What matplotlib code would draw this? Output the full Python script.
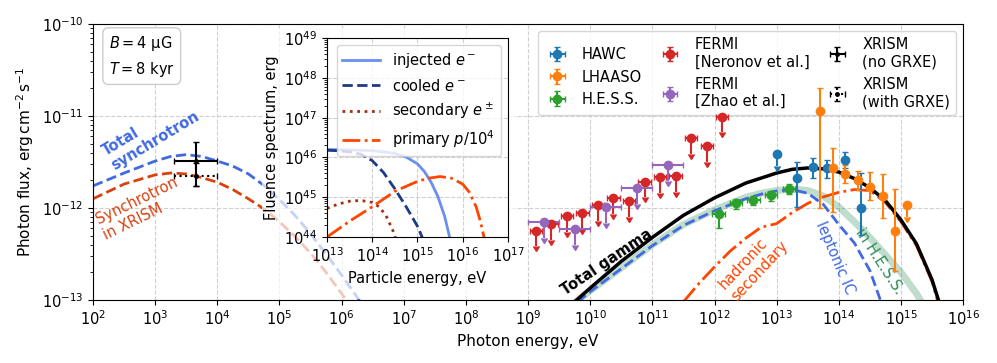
import numpy as np
import matplotlib
matplotlib.use("Agg")
import matplotlib.pyplot as plt
from matplotlib.patches import Rectangle
from matplotlib.ticker import NullLocator, LogLocator

# ---- model curves, main panel (log10 E [eV], log10 flux [erg cm^-2 s^-1]) ----
sync_total_logE = [2.0, 2.5, 3.0, 3.25, 3.5, 3.75, 4.0, 4.25, 4.5, 4.75, 5.0, 5.25, 5.5, 5.75, 6.0, 6.25, 6.45]
sync_total_logF = [-11.76, -11.62, -11.49, -11.44, -11.42, -11.44, -11.49, -11.545, -11.63, -11.755, -11.91, -12.08, -12.28, -12.50, -12.73, -12.97, -13.17]

sync_xrism_logE = [2.0, 2.5, 3.0, 3.25, 3.5, 3.75, 4.0, 4.25, 4.5, 4.75, 5.0, 5.25, 5.5, 5.75, 6.0, 6.25]
sync_xrism_logF = [-11.90, -11.74, -11.64, -11.62, -11.63, -11.67, -11.72, -11.80, -11.90, -12.01, -12.15, -12.31, -12.49, -12.70, -12.93, -13.18]

gamma_total_logE = [9.7, 10.0, 10.5, 11.0, 11.5, 12.0, 12.5, 13.0, 13.25, 13.5, 13.75, 14.0, 14.25, 14.5, 14.75, 15.0, 15.25, 15.5, 15.65]
gamma_total_logF = [-13.05, -12.87, -12.58, -12.32, -12.08, -11.89, -11.73, -11.62, -11.58, -11.565, -11.575, -11.61, -11.68, -11.78, -11.92, -12.13, -12.39, -12.78, -13.1]

ic_logE = [9.8, 10.0, 10.5, 11.0, 11.5, 12.0, 12.5, 12.75, 13.0, 13.25, 13.5, 13.75, 14.0, 14.25, 14.5, 14.7]
ic_logF = [-13.02, -12.91, -12.66, -12.41, -12.19, -12.03, -11.90, -11.85, -11.815, -11.80, -11.84, -11.96, -12.18, -12.38, -12.68, -13.06]

hess_band_logE = [9.8, 10.0, 10.5, 11.0, 11.5, 12.0, 12.5, 12.75, 13.0, 13.25, 13.5, 13.75, 14.0, 14.25, 14.5, 14.75, 15.0, 15.25, 15.4]
hess_band_logF = [-13.0, -12.9, -12.65, -12.40, -12.18, -12.02, -11.885, -11.84, -11.81, -11.795, -11.81, -11.87, -11.99, -12.15, -12.32, -12.51, -12.70, -12.93, -13.1]

hadr_logE = [11.5, 11.75, 12.0, 12.25, 12.5, 12.75, 13.0, 13.25, 13.5, 13.75, 14.0, 14.25, 14.5, 14.75, 15.0, 15.25, 15.5, 15.62]
hadr_logF = [-13.02, -12.82, -12.64, -12.47, -12.33, -12.21, -12.17, -12.05, -11.95, -11.88, -11.83, -11.80, -11.81, -11.94, -12.15, -12.41, -12.80, -13.08]

# ---- inset: particle spectra (log10 E [eV], log10 fluence [erg]) ----
inj_logE = [13.0, 13.5, 14.0, 14.25, 14.5, 14.75, 15.0, 15.15, 15.3, 15.45, 15.6, 15.72]
inj_logY = [46.20, 46.19, 46.17, 46.14, 46.10, 46.01, 45.84, 45.65, 45.38, 45.02, 44.52, 43.95]
cool_logE = [13.0, 13.25, 13.5, 13.75, 14.0, 14.25, 14.5, 14.75, 15.0, 15.12]
cool_logY = [46.18, 46.17, 46.14, 46.08, 45.92, 45.62, 45.21, 44.76, 44.27, 43.95]
sec_logE = [13.0, 13.25, 13.5, 13.75, 14.0, 14.15, 14.3, 14.45, 14.52]
sec_logY = [44.72, 44.83, 44.90, 44.92, 44.87, 44.76, 44.55, 44.18, 43.95]
prim_logE = [13.0, 13.5, 14.0, 14.5, 15.0, 15.25, 15.5, 15.75, 16.0, 16.15, 16.3, 16.4, 16.48]
prim_logY = [44.00, 44.40, 44.76, 45.15, 45.40, 45.48, 45.52, 45.48, 45.33, 45.12, 44.75, 44.35, 43.95]

# ---- measurements ----
hawc_E = np.array([1.03e13, 2.16e13, 3.81e13, 6.56e13, 1.28e14, 2.26e14])
hawc_F = np.array([3.83e-12, 2.12e-12, 2.81e-12, 2.70e-12, 3.33e-12, 9.9e-13])
hawc_Flo = np.array([2.85e-12, 1.03e-12, 2.10e-12, 2.14e-12, 2.72e-12, 5.1e-13])
hawc_Fhi = np.array([3.83e-12, 3.14e-12, 3.47e-12, 3.33e-12, 4.03e-12, 2.40e-12])
hawc_ul = np.array([True, False, False, False, False, False])

lhaaso_E = np.array([5.07e13, 8.11e13, 1.28e14, 2.05e14, 3.23e14, 5.11e14, 8.17e14, 1.27e15])
lhaaso_F = np.array([1.13e-11, 2.70e-12, 2.32e-12, 2.00e-12, 1.71e-12, 1.35e-12, 5.62e-13, 1.08e-12])
lhaaso_Flo = np.array([9.9e-13, 9.1e-13, 1.85e-12, 1.55e-12, 1.22e-12, 7.8e-13, 2.04e-13, 8.0e-13])
lhaaso_Fhi = np.array([2.0e-11, 4.5e-12, 2.9e-12, 2.5e-12, 2.48e-12, 2.34e-12, 1.6e-12, 1.08e-12])
lhaaso_ul = np.array([False, False, False, False, False, False, False, True])

hess_E = np.array([1.16e12, 2.20e12, 4.23e12, 8.05e12, 1.57e13])
hess_F = np.array([8.53e-13, 1.12e-12, 1.22e-12, 1.37e-12, 1.62e-12])
hess_Flo = np.array([6.0e-13, 9.8e-13, 1.08e-12, 1.20e-12, 1.42e-12])
hess_Fhi = np.array([9.6e-13, 1.25e-12, 1.35e-12, 1.52e-12, 1.82e-12])

neronov_E = np.array([1.33e9, 2.37e9, 4.22e9, 7.50e9, 1.33e10, 2.37e10, 4.22e10,
                      7.50e10, 1.33e11, 2.37e11, 4.22e11, 7.50e11, 1.33e12])
neronov_F = np.array([5.66e-13, 6.70e-13, 8.18e-13, 8.75e-13, 1.08e-12, 1.27e-12, 1.19e-12,
                      1.93e-12, 2.15e-12, 2.23e-12, 5.77e-12, 4.72e-12, 9.8e-12])

zhao_E = np.array([1.78e9, 5.62e9, 1.78e10, 5.62e10, 1.78e11])
zhao_F = np.array([7.05e-13, 5.86e-13, 1.02e-12, 1.64e-12, 2.93e-12])

xrism_E, xrism_Elo, xrism_Ehi = 4.55e3, 2.0e3, 1.0e4
xrism_F, xrism_Flo, xrism_Fhi = 3.2e-12, 1.75e-12, 5.2e-12
xrism_grxe_F, xrism_grxe_Flo, xrism_grxe_Fhi = 2.2e-12, 1.75e-12, 3.1e-12

plt.rcParams['font.size'] = 10.5
fig = plt.figure(figsize=(9.97, 3.63), dpi=100)
ax = fig.add_axes([0.0933, 0.1736, 0.8727, 0.7604])
ax.set_xscale('log')
ax.set_yscale('log')

p = lambda v: 10 ** np.asarray(v)

ax.plot(p(sync_total_logE), p(sync_total_logF), '--', color='royalblue', lw=2)
ax.plot(p(sync_xrism_logE), p(sync_xrism_logF), '--', color='#d9410f', lw=2)
ax.plot(p(hess_band_logE), p(hess_band_logF), '-', color='seagreen', lw=5, alpha=0.3)
ax.plot(p(hadr_logE), p(hadr_logF), '-.', color='orangered', lw=2)
ax.plot(p(ic_logE), p(ic_logF), '--', color='royalblue', lw=2)
ax.plot(p(gamma_total_logE), p(gamma_total_logF), '-', color='black', lw=2.5)

eb = dict(fmt='o', ms=6, capsize=2.5, elinewidth=1.5, zorder=6)
ul_len = 10 ** -0.17


def err(F, lo, hi):
    return [F - lo, hi - F]


ax.errorbar(hawc_E, hawc_F, xerr=0 * hawc_E, yerr=err(hawc_F, hawc_Flo, hawc_Fhi),
            uplims=hawc_ul, color='tab:blue', label='HAWC', **eb)
ax.errorbar(lhaaso_E, lhaaso_F, xerr=0 * lhaaso_E, yerr=err(lhaaso_F, lhaaso_Flo, lhaaso_Fhi),
            uplims=lhaaso_ul, color='tab:orange', label='LHAASO', **eb)
ax.errorbar(hess_E, hess_F, xerr=[hess_E * (1 - 10 ** -0.1), hess_E * (10 ** 0.1 - 1)],
            yerr=err(hess_F, hess_Flo, hess_Fhi), color='tab:green', label='H.E.S.S.', **eb)
ax.errorbar(neronov_E, neronov_F,
            xerr=[neronov_E * (1 - 10 ** -0.1), neronov_E * (10 ** 0.1 - 1)],
            yerr=neronov_F * (1 - ul_len), uplims=True, color='tab:red',
            label='FERMI\n[Neronov et al.]', **eb)
ax.errorbar(zhao_E, zhao_F,
            xerr=[zhao_E * (1 - 10 ** -0.25), zhao_E * (10 ** 0.25 - 1)],
            yerr=zhao_F * (1 - ul_len), uplims=True, color='tab:purple',
            label='FERMI\n[Zhao et al.]', **eb)
ax.errorbar([xrism_E], [xrism_F], xerr=[[xrism_E - xrism_Elo], [xrism_Ehi - xrism_E]],
            yerr=[[xrism_F - xrism_Flo], [xrism_Fhi - xrism_F]], fmt='.', ms=5,
            color='black', capsize=2.5, elinewidth=1.5, zorder=7, label='XRISM\n(no GRXE)')
e2 = ax.errorbar([xrism_E], [xrism_grxe_F], xerr=[[xrism_E - xrism_Elo], [xrism_Ehi - xrism_E]],
                 yerr=[[xrism_grxe_F - xrism_grxe_Flo], [xrism_grxe_Fhi - xrism_grxe_F]], fmt='.', ms=5,
                 color='black', capsize=2.5, elinewidth=1.5, zorder=7, label='XRISM\n(with GRXE)')
for c in e2[2]:
    c.set_linestyle(':')

ax.set_xlim(1e2, 1e16)
ax.set_ylim(1e-13, 1e-10)
ax.set_xticks([10.0 ** k for k in range(2, 17)])
ax.set_yticks([1e-13, 1e-12, 1e-11, 1e-10])
ax.xaxis.set_minor_locator(NullLocator())
ax.grid(True, which='major', ls='--', color='#d0d0d0', lw=0.8)
ax.set_xlabel('Photon energy, eV', fontsize=11)
ax.set_ylabel(r'Photon flux, $\mathrm{erg\,cm^{-2}\,s^{-1}}$', fontsize=11)
ax.legend(loc='upper right', ncol=3, fontsize=10.5, columnspacing=1.0, handlelength=1.8)

# curve labels
ax.text(10 ** 2.93, 10 ** -11.19, 'Total\nsynchrotron', rotation=31, color='royalblue',
        fontweight='bold', ha='center', va='center', multialignment='left', fontsize=10.5)
ax.text(10 ** 2.76, 10 ** -12.01, 'Synchrotron\nin XRISM', rotation=26, color='#d9410f',
        ha='center', va='center', multialignment='left', fontsize=10.5)
ax.text(10 ** 10.26, 10 ** -12.59, 'Total gamma', rotation=34, color='black',
        fontweight='bold', ha='center', va='center', fontsize=10.5)
ax.text(10 ** 12.63, 10 ** -12.62, 'hadronic\nsecondary', rotation=47, color='orangered',
        ha='center', va='center', multialignment='left', fontsize=10.5)
ax.text(10 ** 13.94, 10 ** -12.54, 'leptonic IC', rotation=-67, color='royalblue',
        ha='center', va='center', fontsize=10.5)
ax.text(10 ** 14.65, 10 ** -12.58, 'in H.E.S.S.', rotation=-57, color='#2e8b57',
        ha='center', va='center', fontsize=10.5)
ax.text(0.018, 0.965, '$B = 4$ μG\n$T = 8$ kyr', transform=ax.transAxes, va='top', ha='left',
        fontsize=10.5, linespacing=1.5,
        bbox=dict(boxstyle='round,pad=0.4', fc='white', ec='#cccccc'))

# pale veil behind the inset
ax.add_patch(Rectangle((0.263, 0.177), 0.254, 0.745, transform=fig.transFigure,
                       fc='white', ec='none', alpha=0.7, zorder=4, clip_on=False))

# ---- inset ----
ins = fig.add_axes([0.328, 0.347, 0.1815, 0.548])
ins.set_xscale('log')
ins.set_yscale('log')
ins.plot(p(inj_logE), p(inj_logY), '-', color='#6b8ff0', lw=2, label='injected $e^-$')
ins.plot(p(cool_logE), p(cool_logY), '--', color='#1f3a85', lw=2, label='cooled $e^-$')
ins.plot(p(sec_logE), p(sec_logY), ':', color='#a0300f', lw=2, label=r'secondary $e^\pm$')
ins.plot(p(prim_logE), p(prim_logY), '-.', color='orangered', lw=2, label='primary $p/10^4$')
ins.set_xlim(1e13, 1e17)
ins.set_ylim(1e44, 1e49)
ins.set_xticks([10.0 ** k for k in range(13, 18)])
ins.set_yticks([10.0 ** k for k in range(44, 50)])
ins.xaxis.set_minor_locator(NullLocator())
ins.yaxis.set_minor_locator(LogLocator(subs=np.arange(2, 10)))
ins.grid(True, which='major', ls='--', color='#d0d0d0', lw=0.8)
ins.set_xlabel('Particle energy, eV', fontsize=10.5)
ins.set_ylabel('Fluence spectrum, erg', fontsize=10.5)
ins.legend(loc='upper right', fontsize=10.5, handlelength=2.6)

fig.savefig('out.png', dpi=100)
